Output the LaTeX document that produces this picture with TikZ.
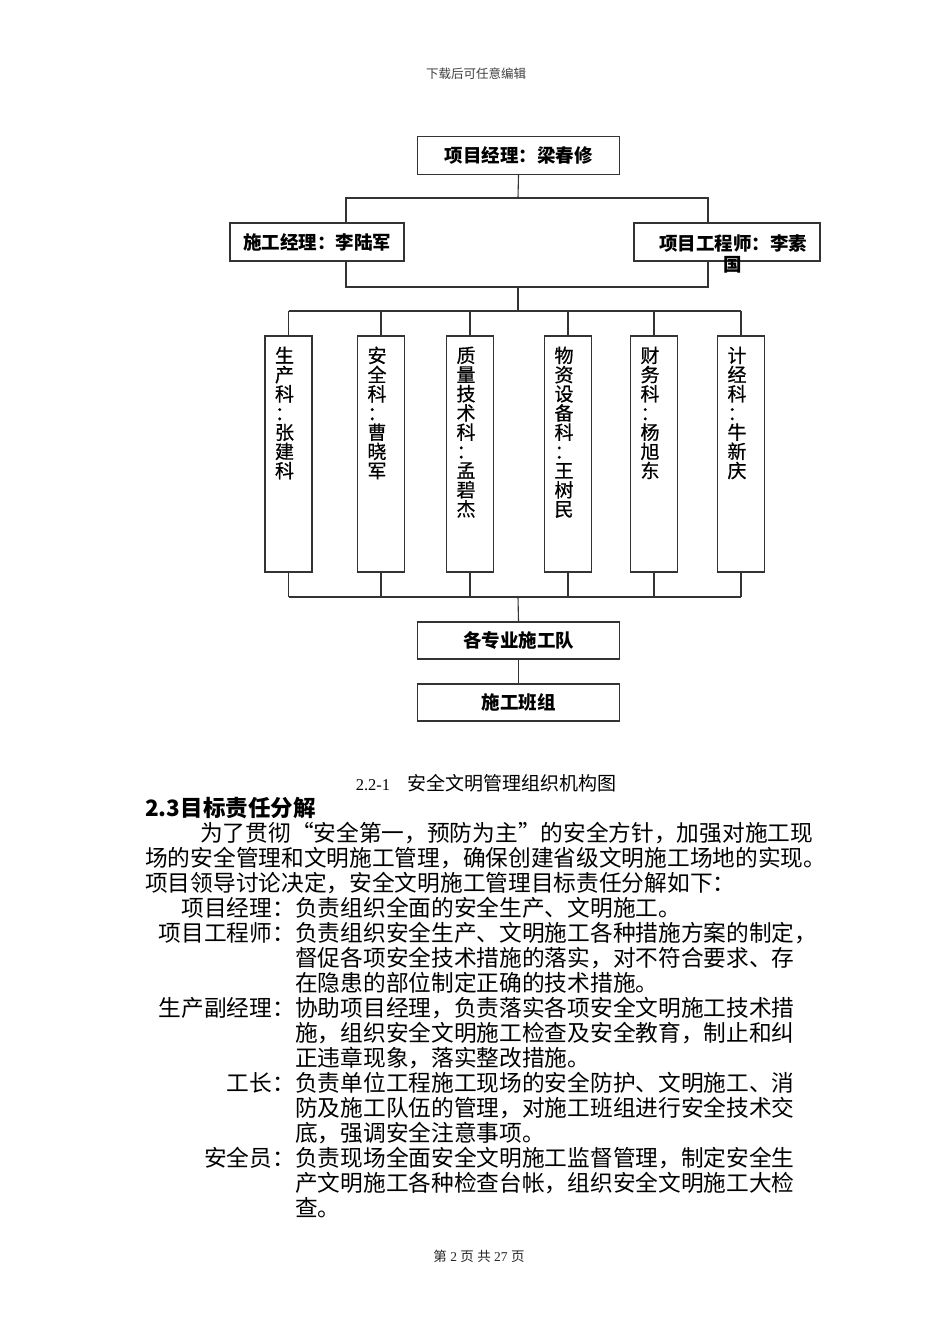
\documentclass[tikz,border=0pt]{standalone}
\usepackage{fontspec}
\setmainfont{Liberation Serif}
\newfontfamily\cjk{Noto Sans CJK SC}
\newfontfamily\cjkv[FakeBold=0.6]{Noto Sans CJK SC}
\usetikzlibrary{calc}
\tikzset{
  conn/.style={line width=1.1pt, draw=black!80},
  hbox/.style={draw=black!80, line width=1.1pt, minimum width=202pt, minimum height=38pt, inner sep=0pt,
    font=\cjk\bfseries\fontsize{18.5}{21}\selectfont},
  dbox/.style={draw=black!80, line width=1.1pt, minimum width=47pt, minimum height=236pt, inner sep=0pt},
  vtxt/.style={anchor=north, align=center, inner sep=0pt, font=\cjkv\fontsize{19}{19.2}\selectfont},
  body/.style={anchor=west, inner sep=0pt, font=\cjk\fontsize{22.7}{25}\selectfont},
  lbl/.style={anchor=east, inner sep=0pt, font=\cjk\fontsize{22.7}{25}\selectfont},
}
\begin{document}
\begin{tikzpicture}[x=1pt,y=-1pt]
\useasboundingbox[fill=white] (0,0) rectangle (950,1344);

% header / footer
\node[inner sep=0pt, font=\cjk\fontsize{12.5}{14}\selectfont, text=black!75] (hdr) at (476,74) {下载后可任意编辑};
\node[inner sep=0pt, font=\fontsize{13.5}{15}\selectfont, text=black!85] (ftr) at (479,1256) {{\cjk 第} 2 {\cjk 页} {\cjk 共} 27 {\cjk 页}};

% top boxes
\node[hbox] (pm) at (518.5,155.5) {项目经理：梁春修};
\node[hbox, minimum width=174pt] (cm) at (317,242) {施工经理：李陆军};
\node[hbox, minimum width=186pt] (pe) at (727,242) {};
\node[inner sep=0pt, align=center, font=\cjk\bfseries\fontsize{18.5}{21}\selectfont] (pet) at (733,253.5) {项目工程师：李素\\国};

% department boxes
\node[dbox] (d1) at (288.5,454) {};
\node[dbox] (d2) at (381,454) {};
\node[dbox] (d3) at (470,454) {};
\node[dbox] (d4) at (568,454) {};
\node[dbox] (d5) at (654,454) {};
\node[dbox] (d6) at (741,454) {};
\node[vtxt] (t1) at ([xshift=-4pt,yshift=-11pt]d1.north) {生\\产\\科\\：\\张\\建\\科};
\node[vtxt] (t2) at ([xshift=-4pt,yshift=-11pt]d2.north) {安\\全\\科\\：\\曹\\晓\\军};
\node[vtxt] (t3) at ([xshift=-4pt,yshift=-11pt]d3.north) {质\\量\\技\\术\\科\\：\\孟\\碧\\杰};
\node[vtxt] (t4) at ([xshift=-4pt,yshift=-11pt]d4.north) {物\\资\\设\\备\\科\\：\\王\\树\\民};
\node[vtxt] (t5) at ([xshift=-4pt,yshift=-11pt]d5.north) {财\\务\\科\\：\\杨\\旭\\东};
\node[vtxt] (t6) at ([xshift=-4pt,yshift=-11pt]d6.north) {计\\经\\科\\：\\牛\\新\\庆};

% bottom boxes
\node[hbox, minimum height=37pt] (team) at (518.5,640.5) {各专业施工队};
\node[hbox, minimum height=37pt] (grp) at (518.5,702.5) {施工班组};

% junctions
\coordinate (a0) at (518,198);
\coordinate (aL) at (346,198);
\coordinate (aR) at (708,198);
\coordinate (b0) at (518,287);
\coordinate (bL) at (346,287);
\coordinate (bR) at (708,287);
\coordinate (c0) at (518,311);
\coordinate (e0) at (518,597);

\draw[conn] (pm.south) -- (a0);
\draw[conn] (aL |- cm.north) -- (aL) -- (aR) -- (aR |- pe.north);
\draw[conn] (bL |- cm.south) -- (bL) -- (bR) -- (bR |- pe.south);
\draw[conn] (b0) -- (c0);
\draw[conn] (d1.north |- c0) -- (d6.north |- c0);
\draw[conn] (d1.south |- e0) -- (d6.south |- e0);
\foreach \d in {d1,d2,d3,d4,d5,d6}{
  \draw[conn] (\d.north) -- (\d.north |- c0);
  \draw[conn] (\d.south) -- (\d.south |- e0);
}
\draw[conn] (e0) -- (team.north);
\draw[conn] (team.south) -- (grp.north);

% caption
\node[inner sep=0pt, font=\fontsize{16.5}{19}\selectfont] (cap) at (486,783)
  {2.2-1\hspace{17pt}{\cjk\fontsize{19}{19}\selectfont 安全文明管理组织机构图}};

% heading
\node[anchor=west, inner sep=0pt, font=\cjk\bfseries\fontsize{22.5}{25}\selectfont] (hd) at (145,808) {2.3目标责任分解};

% body
\node[body] (p1) at (200,833) {为了贯彻“安全第一，预防为主”的安全方针，加强对施工现};
\node[body] (p2) at (145,858) {场的安全管理和文明施工管理，确保创建省级文明施工场地的实现。};
\node[body] (p3) at (145,883) {项目领导讨论决定，安全文明施工管理目标责任分解如下：};

\node[lbl] (l1) at (295,908) {项目经理：};
\node[body] (r1) at (295,908) {负责组织全面的安全生产、文明施工。};

\node[lbl] (l2) at (295,933) {项目工程师：};
\node[body] (r2a) at (295,933) {负责组织安全生产、文明施工各种措施方案的制定，};
\node[body] (r2b) at (295,958) {督促各项安全技术措施的落实，对不符合要求、存};
\node[body] (r2c) at (295,983) {在隐患的部位制定正确的技术措施。};

\node[lbl] (l3) at (295,1008) {生产副经理：};
\node[body] (r3a) at (295,1008) {协助项目经理，负责落实各项安全文明施工技术措};
\node[body] (r3b) at (295,1033) {施，组织安全文明施工检查及安全教育，制止和纠};
\node[body] (r3c) at (295,1058) {正违章现象，落实整改措施。};

\node[lbl] (l4) at (295,1083) {工长：};
\node[body] (r4a) at (295,1083) {负责单位工程施工现场的安全防护、文明施工、消};
\node[body] (r4b) at (295,1108) {防及施工队伍的管理，对施工班组进行安全技术交};
\node[body] (r4c) at (295,1133) {底，强调安全注意事项。};

\node[lbl] (l5) at (295,1158) {安全员：};
\node[body] (r5a) at (295,1158) {负责现场全面安全文明施工监督管理，制定安全生};
\node[body] (r5b) at (295,1183) {产文明施工各种检查台帐，组织安全文明施工大检};
\node[body] (r5c) at (295,1208) {查。};
\end{tikzpicture}
\end{document}
